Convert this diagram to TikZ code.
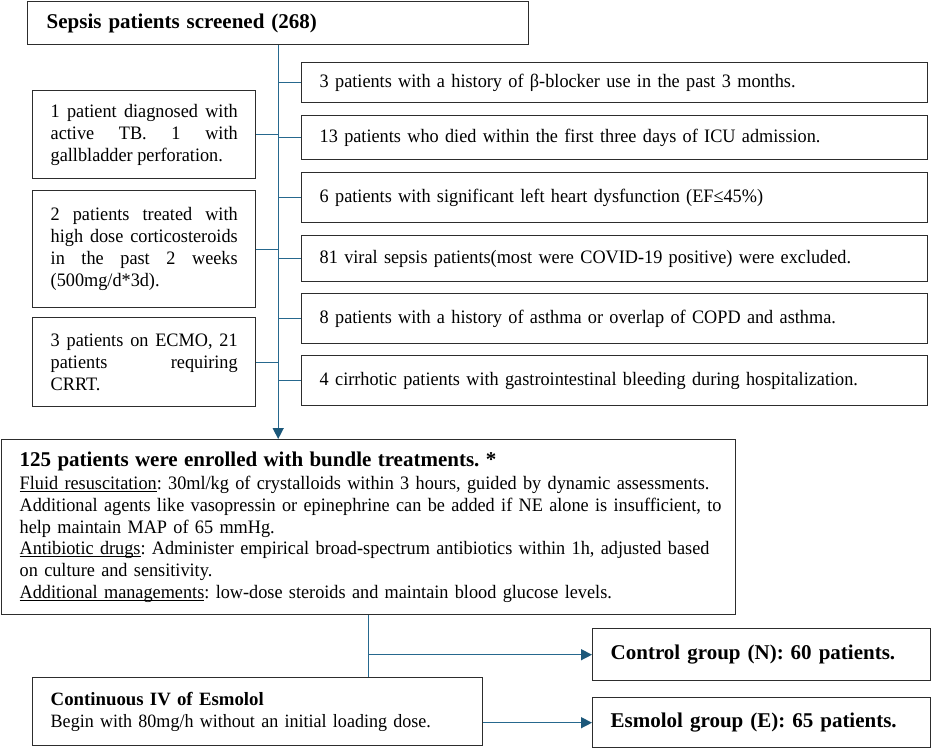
\documentclass[tikz,border=0pt]{standalone}
\usepackage{fontspec}
\setmainfont{Liberation Serif}[UprightFeatures={FakeStretch=0.96}]
\usetikzlibrary{arrows.meta}
\definecolor{connc}{RGB}{38,104,142}
\definecolor{tipc}{RGB}{28,88,122}
\definecolor{boxc}{RGB}{45,45,45}
\newcommand\ulx[1]{\setbox0\hbox{#1}\rlap{\rule[-2.4pt]{\wd0}{0.9pt}}\box0}
\frenchspacing
\begin{document}
\begin{tikzpicture}[x=1pt,y=-1pt,
  box/.style={draw=boxc, line width=1.4pt, inner ysep=0pt, inner xsep=18pt,
    anchor=north west, font=\fontsize{19}{22}\selectfont},
  rbox/.style={box, text width=590pt, minimum height=#1, align=left},
  lbox/.style={box, text width=187pt, minimum height=#1, align=justify},
  gbox/.style={box, text width=302pt, minimum height=#1, align=left,
    font=\bfseries\fontsize{21}{24}\selectfont},
  conn/.style={draw=connc, line width=1.4pt},
  arr/.style={conn, -{Triangle[length=11pt,width=11pt,fill=tipc,color=tipc]}}
]
\useasboundingbox (0,0) rectangle (934,748);

% top
\node[box, text width=463pt, minimum height=43pt, align=left, inner xsep=19pt,
  font=\bfseries\fontsize{21}{24}\selectfont] (top) at (27,1) {Sepsis patients screened (268)};

% right exclusion boxes
\node[rbox=40pt] (r1) at (301,62) {3 patients with a history of β-blocker use in the past 3 months.};
\node[rbox=44pt] (r2) at (301,115) {13 patients who died within the first three days of ICU admission.};
\node[rbox=50pt] (r3) at (301,172) {6 patients with significant left heart dysfunction (EF≤45\%)};
\node[rbox=46pt] (r4) at (301,235) {81 viral sepsis patients(most were COVID-19 positive) were excluded.};
\node[rbox=50pt] (r5) at (301,293) {8 patients with a history of asthma or overlap of COPD and asthma.};
\node[rbox=50pt] (r6) at (301,355) {4 cirrhotic patients with gastrointestinal bleeding during hospitalization.};

% left exclusion boxes
\node[lbox=88pt] (l1) at (32,90) {1 patient diagnosed with\linebreak active TB. 1 with\linebreak gallbladder perforation.};
\node[lbox=117pt] (l2) at (32,190) {2 patients treated with\linebreak high dose corticosteroids\linebreak in the past 2 weeks\linebreak (500mg/d*3d).};
\node[lbox=89pt] (l3) at (32,317) {3 patients on ECMO, 21\linebreak patients requiring\linebreak CRRT.};

% bundle box
\node[box, text width=698pt, minimum height=175pt, align=left,
  font=\fontsize{19}{21.7}\selectfont] (bundle) at (1,439) {%
\mbox{\textbf{\fontsize{21}{21.7}\selectfont 125 patients were enrolled with bundle treatments. *}}\\[1.3pt]
\mbox{\ulx{Fluid resuscitation}: 30ml/kg of crystalloids within 3 hours, guided by dynamic assessments.}\\
\mbox{Additional agents like vasopressin or epinephrine can be added if NE alone is insufficient, to}\\
\mbox{help maintain MAP of 65 mmHg.}\\
\mbox{\ulx{Antibiotic drugs}: Administer empirical broad-spectrum antibiotics within 1h, adjusted based}\\
\mbox{on culture and sensitivity.}\\
\mbox{\ulx{Additional managements}: low-dose steroids and maintain blood glucose levels.}};

% groups
\node[gbox=52pt] (ctrl) at (592,628) {Control group (N): 60 patients.};
\node[box, text width=414pt, minimum height=68pt, align=left,
  font=\fontsize{18.8}{22}\selectfont] (iv) at (32,677) {\textbf{Continuous IV of Esmolol}\\Begin with 80mg/h without an initial loading dose.};
\node[gbox=50pt] (esm) at (592,697) {Esmolol group (E): 65 patients.};

% connectors
\draw[arr] (top.south) -- (top.south |- bundle.north);
\foreach \n in {r1,r2,r3,r4,r5,r6} {\draw[conn] (\n.west -| top.south) -- (\n.west);}
\foreach \n in {l1,l2,l3} {\draw[conn] (\n.east) -- (\n.east -| top.south);}
\draw[conn] (bundle.south) -- (bundle.south |- iv.north);
\draw[arr] (bundle.south |- ctrl.west) -- (ctrl.west);
\draw[arr] (esm.west -| iv.east) -- (esm.west);
\end{tikzpicture}
\end{document}
